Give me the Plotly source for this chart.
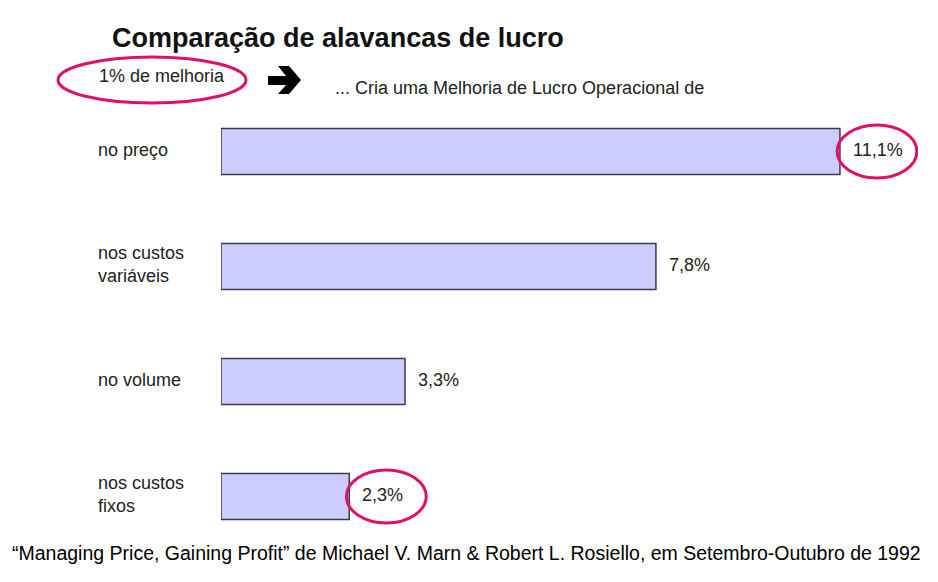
import plotly.graph_objects as go

# ====== Dados ======
alavancas = ["no preço", "nos custos<br>variáveis", "no volume", "nos custos<br>fixos"]
melhoria_lucro = [11.1, 7.8, 3.3, 2.3]
rotulos = ["11,1%", "7,8%", "3,3%", "2,3%"]
destaques = [0, 3]  # barras com o valor circulado

titulo = "Comparação de alavancas de lucro"
subtitulo_esq = "1% de melhoria"
subtitulo_dir = "... Cria uma Melhoria de Lucro Operacional de"
fonte_ref = ("\u201cManaging Price, Gaining Profit\u201d de Michael V. Marn & Robert L. Rosiello, "
             "em Setembro-Outubro de 1992")

# ====== Layout em pixels (a página tem 8px de margem no body) ======
OFF = 8
W, H = 938 - OFF, 582 - OFF
ML, MR, MT, MB = 213, 20, 86, 28
PW, PH = W - ML - MR, H - MT - MB
ROSA = "#e0106a"
TEXTO = "#222222"
FONTE = "Liberation Sans, Arial, sans-serif"


def px(x):
    return (x - OFF - ML) / PW


def py(y):
    return 1 - (y - OFF - MT) / PH


fig = go.Figure()
fig.add_trace(go.Bar(
    x=melhoria_lucro, y=list(range(len(alavancas))), orientation="h",
    width=0.4, marker=dict(color="#ccccff", line=dict(color="#3a3a4a", width=1.5)),
    hoverinfo="skip",
))

# ====== Rótulos das categorias e valores ======
for i, (nome, v, r) in enumerate(zip(alavancas, melhoria_lucro, rotulos)):
    fig.add_annotation(x=px(96), xref="paper", y=i, yref="y", text=nome, showarrow=False,
                       xanchor="left", yanchor="middle", align="left", yshift=2,
                       font=dict(size=18, color=TEXTO, family=FONTE))
    fig.add_annotation(x=v, y=i, text=r, showarrow=False, xanchor="left", yanchor="middle",
                       xshift=11, yshift=2, font=dict(size=18, color=TEXTO, family=FONTE))

# ====== Elipses nos valores destacados ======
for i in destaques:
    v = melhoria_lucro[i]
    fig.add_shape(type="circle", xref="x", yref="y", x0=v - 0.05, x1=v + 1.38,
                  y0=i - 0.23, y1=i + 0.23, line=dict(color=ROSA, width=3))

fig.add_shape(type="circle", xref="paper", yref="paper", x0=px(58), x1=px(246),
              y0=py(103), y1=py(57), line=dict(color=ROSA, width=3))

# ====== Seta ======
seta = [(268, 76), (286, 76), (278, 66), (289, 66), (301, 80), (289, 94), (278, 94), (286, 85), (268, 85)]
caminho = "M " + " L ".join(f"{px(a):.4f},{py(b):.4f}" for a, b in seta) + " Z"
fig.add_shape(type="path", xref="paper", yref="paper", path=caminho,
              fillcolor="#000000", line=dict(color="#000000", width=0))

# ====== Títulos ======
def texto(x, y, t, size, cor=TEXTO):
    fig.add_annotation(x=px(x), y=py(y), xref="paper", yref="paper", text=t, showarrow=False,
                       xanchor="left", yanchor="middle", font=dict(size=size, color=cor, family=FONTE))


texto(110, 38, "<b>" + titulo + "</b>", 27, "#111111")
texto(97, 76, subtitulo_esq, 18)
texto(333, 88, subtitulo_dir, 18)
texto(10, 553, fonte_ref, 19.5, "#000000")

fig.update_layout(
    width=W, height=H, margin=dict(l=ML, r=MR, t=MT, b=MB),
    paper_bgcolor="white", plot_bgcolor="white", showlegend=False,
    xaxis=dict(range=[0, 12.5], visible=False),
    yaxis=dict(range=[3.5, -0.5], visible=False),
)

fig.write_html("out.html")
